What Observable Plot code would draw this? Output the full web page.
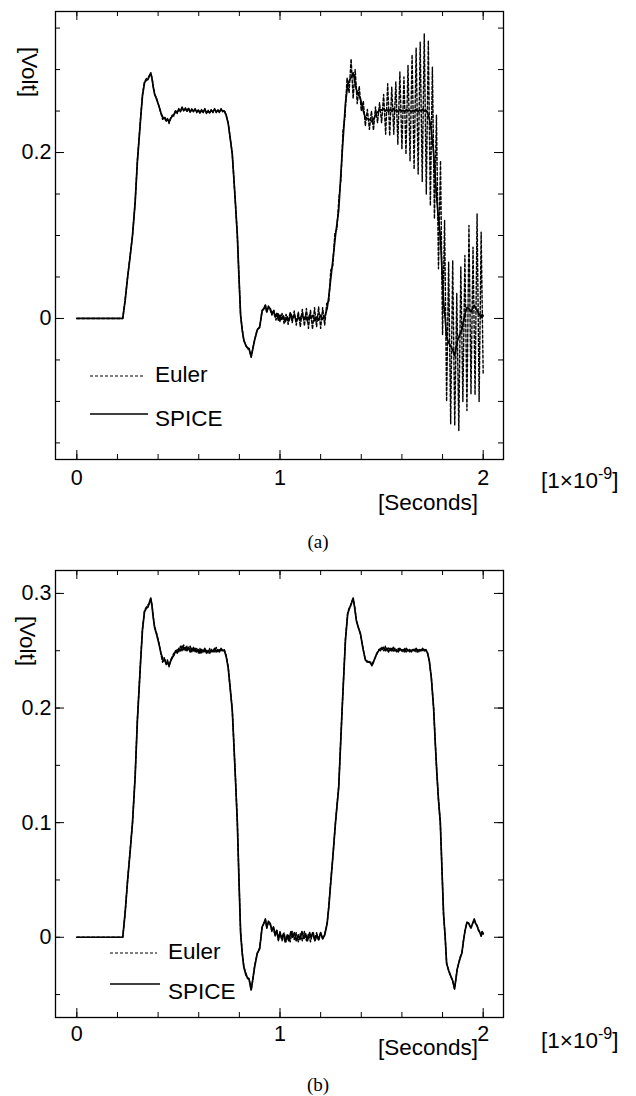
<!DOCTYPE html>
<html>
<head>
<meta charset="utf-8">
<script src="https://cdn.jsdelivr.net/npm/d3@7"></script>
<script src="https://cdn.jsdelivr.net/npm/@observablehq/plot@0.6"></script>
<style>
  html, body { margin: 0; padding: 0; background: #fff; }
  #root { position: relative; width: 636px; height: 1096px; overflow: hidden; font-family: 'Liberation Sans', Arial, sans-serif; color: #000; }
  .abs { position: absolute; line-height: 1; white-space: nowrap; }
  .lab { font-size: 22.5px; }
  .cap { font-family: 'Liberation Serif', 'Times New Roman', serif; font-size: 19px; }
  sup { font-size: 16px; vertical-align: 0; position: relative; top: -9px; }
</style>
</head>
<body>
<div id="root"></div>
<script>
// ---------------- data (time in ns, voltage in V) ----------------
const xTicks = [0, 0.2, 0.4, 0.6, 0.8, 1, 1.2, 1.4, 1.6, 1.8, 2];
const xLabels = [0, 1, 2];
const yTicksA = [-0.15, -0.1, -0.05, 0, 0.05, 0.1, 0.15, 0.2, 0.25, 0.3, 0.35];
const yLabelsA = [0, 0.2];
const yTicksB = [-0.05, 0, 0.05, 0.1, 0.15, 0.2, 0.25, 0.3];
const yLabelsB = [0, 0.1, 0.2, 0.3];
const seriesNames = ["Euler", "SPICE"];

// SPICE reference waveform (same in both panels)
const spice = [
[0,0],[0.226,0],[0.238,0.022],[0.25,0.05],[0.262,0.074],[0.274,0.1],[0.287,0.14],[0.298,0.189],[0.306,0.215],[0.314,0.241],
[0.323,0.268],[0.333,0.284],[0.342,0.287],[0.35,0.288],[0.357,0.292],[0.364,0.296],[0.37,0.289],[0.376,0.279],[0.383,0.27],[0.393,0.264],
[0.404,0.256],[0.414,0.248],[0.426,0.241],[0.434,0.242],[0.44,0.238],[0.447,0.24],[0.454,0.237],[0.462,0.241],[0.47,0.244],[0.478,0.246],
[0.486,0.25],[0.494,0.248],[0.502,0.252],[0.51,0.25],[0.518,0.254],[0.526,0.251],[0.534,0.253],[0.542,0.25],[0.55,0.253],[0.558,0.249],
[0.566,0.252],[0.574,0.25],[0.582,0.252],[0.59,0.249],[0.598,0.251],[0.606,0.248],[0.614,0.251],[0.622,0.249],[0.63,0.252],[0.638,0.248],
[0.646,0.25],[0.654,0.248],[0.662,0.251],[0.67,0.249],[0.678,0.252],[0.686,0.249],[0.694,0.251],[0.702,0.249],[0.71,0.252],[0.718,0.25],
[0.726,0.25],[0.735,0.245],[0.745,0.235],[0.755,0.217],[0.765,0.198],[0.772,0.172],[0.781,0.137],[0.79,0.1],[0.798,0.05],[0.806,0.004],
[0.814,-0.014],[0.822,-0.026],[0.832,-0.033],[0.84,-0.035],[0.848,-0.037],[0.858,-0.046],[0.866,-0.037],[0.875,-0.026],[0.888,-0.014],[0.9,-0.01],
[0.912,0.009],[0.92,0.012],[0.928,0.016],[0.935,0.008],[0.943,0.014],[0.952,0.012],[0.96,0.006],[0.968,0.009],[0.976,0.002],[0.984,0.006],
[0.992,-0.002],[1.0,0.004],[1.008,-0.001],[1.017,0.003],[1.025,-0.004],[1.036,0.002],[1.043,-0.003],[1.054,0.005],[1.062,0.0],[1.071,0.004],
[1.08,-0.003],[1.091,0.002],[1.098,-0.002],[1.108,0.005],[1.118,-0.001],[1.126,0.003],[1.135,-0.003],[1.146,0.004],[1.153,0.0],[1.163,0.004],
[1.172,-0.003],[1.182,0.002],[1.19,-0.002],[1.2,0.004],[1.21,-0.001],[1.22,0.002],[1.232,0.012],[1.24,0.026],[1.248,0.044],[1.26,0.07],[1.273,0.1],[1.289,0.131],
[1.306,0.2],[1.322,0.259],[1.333,0.282],[1.34,0.286],[1.346,0.289],[1.353,0.292],[1.36,0.296],[1.367,0.288],[1.376,0.276],[1.386,0.27],
[1.396,0.265],[1.408,0.252],[1.42,0.242],[1.428,0.241],[1.436,0.24],[1.445,0.24],[1.452,0.237],[1.458,0.239],[1.466,0.243],[1.477,0.248],
[1.486,0.25],[1.494,0.252],[1.502,0.251],[1.51,0.253],[1.518,0.25],[1.526,0.252],[1.534,0.249],[1.542,0.252],[1.55,0.25],[1.558,0.253],
[1.566,0.25],[1.574,0.251],[1.582,0.249],[1.59,0.252],[1.598,0.25],[1.606,0.251],[1.614,0.249],[1.622,0.252],[1.63,0.25],[1.638,0.251],
[1.646,0.249],[1.654,0.251],[1.662,0.25],[1.67,0.252],[1.678,0.249],[1.686,0.251],[1.694,0.25],[1.702,0.252],[1.71,0.25],[1.718,0.251],
[1.726,0.248],[1.735,0.241],[1.745,0.226],[1.756,0.2],[1.764,0.17],[1.772,0.143],[1.78,0.12],[1.789,0.1],[1.797,0.06],[1.805,0.02],
[1.813,0.0],[1.82,-0.023],[1.83,-0.029],[1.837,-0.032],[1.843,-0.035],[1.85,-0.038],[1.859,-0.045],[1.866,-0.036],[1.872,-0.028],[1.879,-0.023],
[1.887,-0.018],[1.895,-0.014],[1.903,-0.003],[1.911,0.006],[1.92,0.013],[1.928,0.0125],[1.934,0.01],[1.94,0.008],[1.948,0.012],[1.956,0.016],
[1.963,0.012],[1.97,0.01],[1.977,0.006],[1.984,0.004],[1.99,0.001],[1.995,0.005],[2.0,0.003]
];

// Euler, panel (a): grows unstable after ~1 ns
const eulerA = [
[0,0],[0.226,0],[0.238,0.023],[0.25,0.05],[0.262,0.075],[0.274,0.1],[0.287,0.14],[0.298,0.19],[0.306,0.216],[0.314,0.242],
[0.323,0.27],[0.333,0.285],[0.342,0.289],[0.35,0.29],[0.357,0.293],[0.364,0.295],[0.37,0.29],[0.376,0.28],[0.383,0.271],[0.393,0.265],
[0.404,0.256],[0.414,0.247],[0.422,0.24],[0.43,0.243],[0.438,0.238],[0.446,0.241],[0.454,0.235],[0.462,0.242],[0.47,0.245],[0.478,0.244],
[0.486,0.251],[0.494,0.247],[0.502,0.253],[0.51,0.249],[0.518,0.255],[0.526,0.25],[0.534,0.254],[0.542,0.249],[0.55,0.254],[0.558,0.248],
[0.566,0.253],[0.574,0.249],[0.582,0.253],[0.59,0.248],[0.598,0.252],[0.606,0.247],[0.614,0.252],[0.622,0.248],[0.63,0.253],[0.638,0.247],
[0.646,0.251],[0.654,0.247],[0.662,0.252],[0.67,0.248],[0.678,0.253],[0.686,0.248],[0.694,0.252],[0.702,0.248],[0.71,0.253],[0.718,0.249],
[0.726,0.251],[0.735,0.245],[0.745,0.236],[0.755,0.217],[0.765,0.199],[0.772,0.172],[0.781,0.137],[0.79,0.1],[0.798,0.05],[0.806,0.004],
[0.814,-0.013],[0.822,-0.027],[0.832,-0.032],[0.84,-0.037],[0.848,-0.036],[0.858,-0.047],[0.866,-0.036],[0.875,-0.026],[0.888,-0.013],[0.9,-0.011],
[0.912,0.01],[0.92,0.011],[0.928,0.016],[0.935,0.007],[0.943,0.015],[0.952,0.01],
[0.96,0.004],[0.97,0.01],[0.98,-0.002],[0.99,0.007],[1.0,-0.004],[1.01,0.006],[1.02,-0.006],[1.03,0.005],[1.04,-0.007],[1.05,0.008],
[1.06,-0.005],[1.07,0.009],[1.08,-0.008],[1.09,0.008],[1.1,-0.01],[1.11,0.011],[1.12,-0.009],[1.13,0.012],[1.14,-0.012],[1.15,0.01],
[1.16,-0.013],[1.17,0.013],[1.18,-0.01],[1.19,0.014],[1.2,-0.012],[1.21,0.013],[1.22,-0.008],
[1.23,0.018],[1.24,0.02],[1.25,0.058],[1.26,0.064],[1.27,0.103],[1.28,0.108],[1.29,0.145],[1.3,0.168],[1.31,0.226],[1.32,0.244],
[1.33,0.29],[1.34,0.272],[1.35,0.313],[1.36,0.265],[1.37,0.3],[1.38,0.259],[1.39,0.28],[1.4,0.25],[1.41,0.262],[1.42,0.232],
[1.43,0.252],[1.44,0.228],[1.45,0.25],[1.46,0.227],[1.47,0.255],[1.48,0.236],[1.49,0.26],[1.5,0.236],[1.51,0.27],[1.52,0.222],
[1.53,0.283],[1.54,0.22],[1.55,0.279],[1.56,0.222],[1.57,0.285],[1.58,0.21],[1.59,0.297],[1.6,0.204],[1.61,0.291],[1.62,0.198],
[1.63,0.305],[1.64,0.19],[1.65,0.318],[1.66,0.18],[1.67,0.326],[1.68,0.174],[1.69,0.333],[1.7,0.165],[1.71,0.343],[1.72,0.15],
[1.73,0.335],[1.74,0.136],[1.75,0.303],[1.76,0.12],[1.77,0.245],[1.78,0.06],[1.79,0.19],[1.8,-0.02],[1.81,0.118],[1.82,-0.1],
[1.83,0.068],[1.84,-0.127],[1.85,0.07],[1.86,-0.129],[1.87,0.03],[1.88,-0.135],[1.89,0.062],[1.9,-0.1],[1.91,0.076],[1.92,-0.111],
[1.93,0.112],[1.94,-0.091],[1.95,0.086],[1.96,-0.092],[1.97,0.126],[1.98,-0.1],[1.99,0.104],[2.0,-0.067]
];

// Euler, panel (b): stays on the SPICE curve
const eulerB = [
[0,0],[0.226,0],[0.238,0.022],[0.25,0.05],[0.262,0.075],[0.274,0.1],[0.287,0.141],[0.298,0.19],[0.306,0.216],[0.314,0.242],
[0.323,0.269],[0.333,0.285],[0.342,0.288],[0.35,0.29],[0.357,0.291],[0.364,0.295],[0.37,0.29],[0.376,0.28],[0.383,0.271],[0.393,0.265],
[0.404,0.257],[0.414,0.247],[0.422,0.24],[0.43,0.244],[0.438,0.239],[0.446,0.242],[0.454,0.236],[0.462,0.242],[0.47,0.245],[0.478,0.248],
[0.486,0.248],[0.494,0.251],[0.502,0.249],[0.51,0.254],[0.518,0.25],[0.526,0.255],[0.534,0.25],[0.542,0.254],[0.55,0.251],[0.558,0.254],
[0.566,0.249],[0.574,0.253],[0.582,0.249],[0.59,0.252],[0.598,0.248],[0.606,0.252],[0.614,0.248],[0.622,0.251],[0.63,0.249],[0.638,0.251],
[0.646,0.248],[0.654,0.252],[0.662,0.249],[0.67,0.251],[0.678,0.249],[0.686,0.253],[0.694,0.249],[0.702,0.251],[0.71,0.25],[0.718,0.251],
[0.726,0.251],[0.735,0.246],[0.745,0.236],[0.755,0.217],[0.765,0.199],[0.772,0.172],[0.781,0.138],[0.79,0.1],[0.798,0.05],[0.806,0.005],
[0.814,-0.013],[0.822,-0.026],[0.832,-0.031],[0.84,-0.036],[0.848,-0.036],[0.858,-0.046],[0.866,-0.037],[0.875,-0.025],[0.888,-0.014],[0.9,-0.009],
[0.912,0.009],[0.92,0.012],[0.928,0.015],[0.935,0.009],[0.943,0.013],[0.952,0.011],[0.96,0.005],[0.968,0.008],[0.976,0.001],[0.984,0.006],
[0.992,-0.003],[1.0,0.005],[1.01,-0.003],[1.02,0.004],[1.03,-0.004],[1.04,0.002],[1.05,-0.004],[1.06,0.005],[1.07,-0.002],[1.08,0.004],
[1.09,-0.004],[1.1,0.003],[1.11,-0.003],[1.12,0.005],[1.13,-0.003],[1.14,0.003],[1.15,-0.004],[1.16,0.004],[1.17,-0.002],[1.18,0.004],
[1.19,-0.003],[1.2,0.004],[1.21,-0.002],[1.22,0.003],[1.232,0.012],[1.24,0.027],[1.248,0.045],[1.26,0.07],[1.273,0.1],[1.289,0.132],
[1.306,0.2],[1.322,0.26],[1.333,0.283],[1.34,0.287],[1.346,0.288],[1.353,0.293],[1.36,0.295],[1.367,0.289],[1.376,0.277],[1.386,0.27],
[1.396,0.264],[1.408,0.253],[1.42,0.242],[1.428,0.24],[1.436,0.241],[1.445,0.239],[1.452,0.238],[1.458,0.24],[1.466,0.243],[1.477,0.247],
[1.486,0.251],[1.494,0.25],[1.502,0.253],[1.51,0.25],[1.518,0.254],[1.526,0.25],[1.534,0.253],[1.542,0.25],[1.55,0.252],[1.558,0.249],
[1.566,0.252],[1.574,0.249],[1.582,0.252],[1.59,0.25],[1.598,0.251],[1.606,0.249],[1.614,0.252],[1.622,0.249],[1.63,0.251],[1.638,0.249],
[1.646,0.251],[1.654,0.25],[1.662,0.252],[1.67,0.249],[1.678,0.251],[1.686,0.249],[1.694,0.251],[1.702,0.25],[1.71,0.251],[1.718,0.25],
[1.726,0.248],[1.735,0.241],[1.745,0.226],[1.756,0.2],[1.764,0.171],[1.772,0.143],[1.78,0.12],[1.789,0.1],[1.797,0.06],[1.805,0.02],
[1.813,0.0],[1.82,-0.022],[1.83,-0.029],[1.837,-0.033],[1.843,-0.035],[1.85,-0.038],[1.859,-0.045],[1.866,-0.036],[1.872,-0.028],[1.879,-0.023],
[1.887,-0.017],[1.895,-0.014],[1.903,-0.003],[1.911,0.006],[1.92,0.013],[1.928,0.012],[1.934,0.01],[1.94,0.009],[1.948,0.012],[1.956,0.015],
[1.963,0.012],[1.97,0.01],[1.977,0.007],[1.984,0.004],[1.99,0.002],[1.995,0.005],[2.0,0.003]
];

// ---------------- drawing ----------------
const root = document.getElementById("root");
const W = 636, ML = 55, MR = 133;
const innerW = W - ML - MR;
const DASH = "3,2";
const EULER_W = 1.4, SPICE_W = 1.7;

function panel({euler, yDomain, yTicks, yLabels, height, mt, mb, xPad}) {
  const innerH = height - mt - mb;
  const tickMinor = 5, tickMajor = 9;
  return Plot.plot({
    width: W, height, marginTop: mt, marginBottom: mb, marginLeft: ML, marginRight: MR,
    style: {fontFamily: "'Liberation Sans', Arial, sans-serif", fontSize: "21.5px", color: "#000", background: "transparent", overflow: "visible"},
    x: {domain: [-0.105, 2.1], ticks: xLabels, tickSize: 0, tickPadding: xPad, tickFormat: d => String(d), label: null},
    y: {domain: yDomain, ticks: yLabels, tickSize: 0, tickPadding: 4, tickFormat: d => String(d), label: null},
    marks: [
      Plot.tickX(xTicks, {x: d => d, insetTop: innerH - tickMinor, stroke: "#000", strokeWidth: 1}),
      Plot.tickX(xTicks, {x: d => d, insetBottom: innerH - tickMinor, stroke: "#000", strokeWidth: 1}),
      Plot.tickX(xLabels, {x: d => d, insetTop: innerH - tickMajor, stroke: "#000", strokeWidth: 1}),
      Plot.tickX(xLabels, {x: d => d, insetBottom: innerH - tickMajor, stroke: "#000", strokeWidth: 1}),
      Plot.tickY(yTicks, {y: d => d, insetRight: innerW - tickMinor, stroke: "#000", strokeWidth: 1}),
      Plot.tickY(yTicks, {y: d => d, insetLeft: innerW - tickMinor, stroke: "#000", strokeWidth: 1}),
      Plot.tickY(yLabels, {y: d => d, insetRight: innerW - tickMajor, stroke: "#000", strokeWidth: 1}),
      Plot.tickY(yLabels, {y: d => d, insetLeft: innerW - tickMajor, stroke: "#000", strokeWidth: 1}),
      Plot.line(euler, {x: d => d[0], y: d => d[1], stroke: "#000", strokeWidth: EULER_W, strokeDasharray: DASH}),
      Plot.line(spice, {x: d => d[0], y: d => d[1], stroke: "#000", strokeWidth: SPICE_W}),
      Plot.frame({stroke: "#000", strokeWidth: 1.3})
    ]
  });
}

function place(el, top) {
  el.style.position = "absolute";
  el.style.left = "0px";
  el.style.top = top + "px";
  root.appendChild(el);
}

function label(html, left, centerY, cls, extra = "") {
  const d = document.createElement("div");
  d.className = "abs " + cls;
  d.innerHTML = html;
  d.style.cssText += `left:${left}px;top:${centerY}px;transform:translateY(-50%);` + extra;
  root.appendChild(d);
  return d;
}
function centered(html, cx, cy, cls, rot = 0) {
  const d = document.createElement("div");
  d.className = "abs " + cls;
  d.innerHTML = html;
  d.style.cssText += `left:${cx}px;top:${cy}px;transform:translate(-50%,-50%) rotate(${rot}deg);`;
  root.appendChild(d);
  return d;
}
function legendLine(x1, x2, y, dashed) {
  const s = document.createElementNS("http://www.w3.org/2000/svg", "svg");
  s.setAttribute("width", x2 - x1);
  s.setAttribute("height", 6);
  s.style.cssText = `position:absolute;left:${x1}px;top:${y - 3}px;overflow:visible`;
  const l = document.createElementNS("http://www.w3.org/2000/svg", "line");
  l.setAttribute("x1", 0); l.setAttribute("x2", x2 - x1);
  l.setAttribute("y1", 3); l.setAttribute("y2", 3);
  l.setAttribute("stroke", "#000");
  l.setAttribute("stroke-width", dashed ? 1.2 : 1.6);
  if (dashed) l.setAttribute("stroke-dasharray", DASH);
  s.appendChild(l);
  root.appendChild(s);
}

// Panel (a)
place(panel({euler: eulerA, yDomain: [-0.17, 0.37], yTicks: yTicksA, yLabels: yLabelsA, height: 520, mt: 11, mb: 61, xPad: 10}), 0);
// Panel (b)
place(panel({euler: eulerB, yDomain: [-0.07, 0.32], yTicks: yTicksB, yLabels: yLabelsB, height: 510, mt: 10, mb: 53, xPad: 8}), 560);

// Axis titles
centered("[Volt]", 29, 72, "lab", 90);
centered("[Volt]", 27, 641, "lab", 90);
centered("[Seconds]", 428, 503, "lab");
centered("[Seconds]", 428, 1048, "lab");
label("[1×10<sup>-9</sup>]", 541, 481, "lab");
label("[1×10<sup>-9</sup>]", 541, 1041, "lab");

// Captions
centered("(a)", 318, 541, "cap");
centered("(b)", 318, 1084, "cap");

// Legends
legendLine(90, 145, 376, true);
label(seriesNames[0], 155, 375, "lab");
legendLine(90, 148, 414, false);
label(seriesNames[1], 155, 419, "lab");

legendLine(110, 157, 953, true);
label(seriesNames[0], 168, 952, "lab");
legendLine(110, 160, 984, false);
label(seriesNames[1], 168, 992, "lab");
</script>
</body>
</html>
